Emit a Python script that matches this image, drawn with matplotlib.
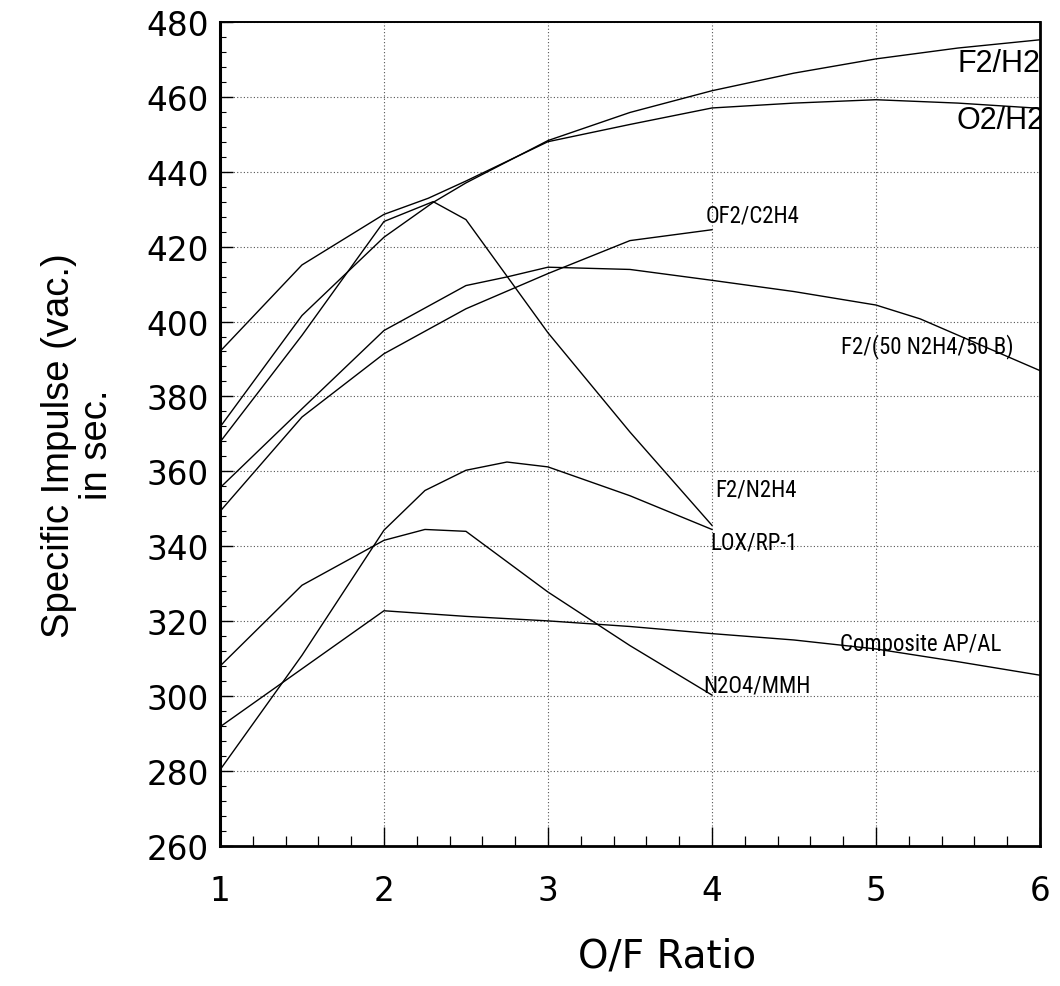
import matplotlib
matplotlib.use("Agg")
import matplotlib.pyplot as plt
from matplotlib import font_manager
from matplotlib.ticker import MultipleLocator

# ---------------- data ----------------
f2h2_x = [1, 1.5, 2, 2.3, 2.5, 3, 3.5, 4, 4.5, 5, 5.5, 6]
f2h2_y = [371.8, 401.6, 422.5, 431.8, 437.0, 448.3, 455.8, 461.6, 466.3, 470.1, 473.0, 475.2]

o2h2_x = [1, 1.5, 2, 2.27, 2.5, 3, 3.5, 4, 4.5, 5, 5.5, 6]
o2h2_y = [392.0, 415.1, 428.6, 432.9, 437.5, 448.0, 452.6, 457.0, 458.3, 459.2, 458.3, 456.9]

f2n2h4_x = [1, 1.5, 2, 2.3, 2.5, 3, 3.5, 4]
f2n2h4_y = [367.8, 396.3, 426.7, 432.0, 427.2, 397.0, 370.5, 345.6]

of2c2h4_x = [1, 1.5, 2, 2.5, 3, 3.5, 4]
of2c2h4_y = [349.3, 374.5, 391.4, 403.4, 412.8, 421.6, 424.5]

f2b_x = [1, 1.5, 2, 2.5, 2.75, 3, 3.5, 4, 4.5, 5, 5.27, 6]
f2b_y = [355.6, 376.7, 397.6, 409.6, 411.9, 414.5, 413.9, 411.0, 408.0, 404.4, 400.7, 386.9]

lox_x = [1, 1.5, 2, 2.25, 2.5, 2.75, 3, 3.5, 4]
lox_y = [280.3, 310.9, 344.3, 354.9, 360.3, 362.5, 361.2, 353.5, 344.5]

n2o4_x = [1, 1.5, 2, 2.25, 2.5, 3, 3.5, 4]
n2o4_y = [308.0, 329.6, 341.6, 344.5, 344.0, 327.8, 313.5, 300.3]

comp_x = [1, 2, 2.5, 3, 3.5, 4, 4.5, 5, 5.5, 6]
comp_y = [291.8, 322.8, 321.3, 320.1, 318.6, 316.7, 315.0, 312.6, 309.2, 305.6]

series = [
    (f2h2_x, f2h2_y), (o2h2_x, o2h2_y), (f2n2h4_x, f2n2h4_y),
    (of2c2h4_x, of2c2h4_y), (f2b_x, f2b_y), (lox_x, lox_y),
    (n2o4_x, n2o4_y), (comp_x, comp_y),
]

big_labels = ["F2/H2", "O2/H2"]
big_label_pos = [(5.50, 469.0), (5.494, 453.8)]

small_labels = ["OF2/C2H4", "F2/(50 N2H4/50 B)", "F2/N2H4", "LOX/RP-1",
                "Composite AP/AL", "N2O4/MMH"]
small_label_pos = [(3.963, 428.3), (4.785, 393.6), (4.018, 355.2), (3.992, 341.2),
                   (4.78, 314.1), (3.945, 303.1)]

x_ticks = [1, 2, 3, 4, 5, 6]
y_ticks = [260, 280, 300, 320, 340, 360, 380, 400, 420, 440, 460, 480]

# ---------------- fonts ----------------
names = {f.name for f in font_manager.fontManager.ttflist}
narrow = None
for cand in ["Liberation Sans Narrow", "Roboto Condensed", "Open Sans Condensed",
             "Noto Sans Condensed", "DejaVu Sans Condensed"]:
    if cand in names:
        narrow = cand
        break
if narrow is None:
    narrow, small_size = "Liberation Sans", 14.5
else:
    small_size = 16.5

# ---------------- figure ----------------
fig = plt.figure(figsize=(10.6, 9.87), dpi=100)
ax = fig.add_axes([0.2075, 0.1418, 0.7736, 0.8351])

for xs, ys in series:
    ax.plot(xs, ys, color="black", lw=1.0, solid_joinstyle="miter")

ax.set_xlim(1, 6)
ax.set_ylim(260, 480)
ax.set_xticks(x_ticks)
ax.set_yticks(y_ticks)
ax.xaxis.set_minor_locator(MultipleLocator(0.2))
ax.yaxis.set_minor_locator(MultipleLocator(4))

ax.grid(True, which="major", linestyle=(0, (1, 2)), color="#555555", lw=0.8)

ax.tick_params(axis="both", which="both", direction="in", color="black")
ax.tick_params(axis="x", which="major", length=14, width=1.0, pad=20)
ax.tick_params(axis="x", which="minor", length=7, width=0.9)
ax.tick_params(axis="y", which="major", length=9, width=1.0, pad=8)
ax.tick_params(axis="y", which="minor", length=4, width=0.8)

for lab in ax.get_xticklabels() + ax.get_yticklabels():
    lab.set_fontfamily("DejaVu Sans")
    lab.set_fontsize(23.5)

for side, w in [("left", 2.2), ("bottom", 2.0), ("right", 2.0), ("top", 1.4)]:
    ax.spines[side].set_linewidth(w)
    ax.spines[side].set_color("black")

for txt, (x, y) in zip(big_labels, big_label_pos):
    ax.text(x, y, txt, fontsize=22, family="Liberation Sans", ha="left", va="center",
            clip_on=True)

for txt, (x, y) in zip(small_labels, small_label_pos):
    ax.text(x, y, txt, fontsize=small_size, family=narrow, ha="left", va="center")

fig.text(0.0736, 0.549, "Specific Impulse (vac.)\nin sec.", rotation=90,
         ha="center", va="center", multialignment="center",
         fontsize=27.5, family="Liberation Sans", linespacing=1.05)

fig.text(0.629, 0.0304, "O/F Ratio", ha="center", va="center",
         fontsize=28, family="DejaVu Sans")

fig.savefig("out.png", dpi=100, facecolor="white")
